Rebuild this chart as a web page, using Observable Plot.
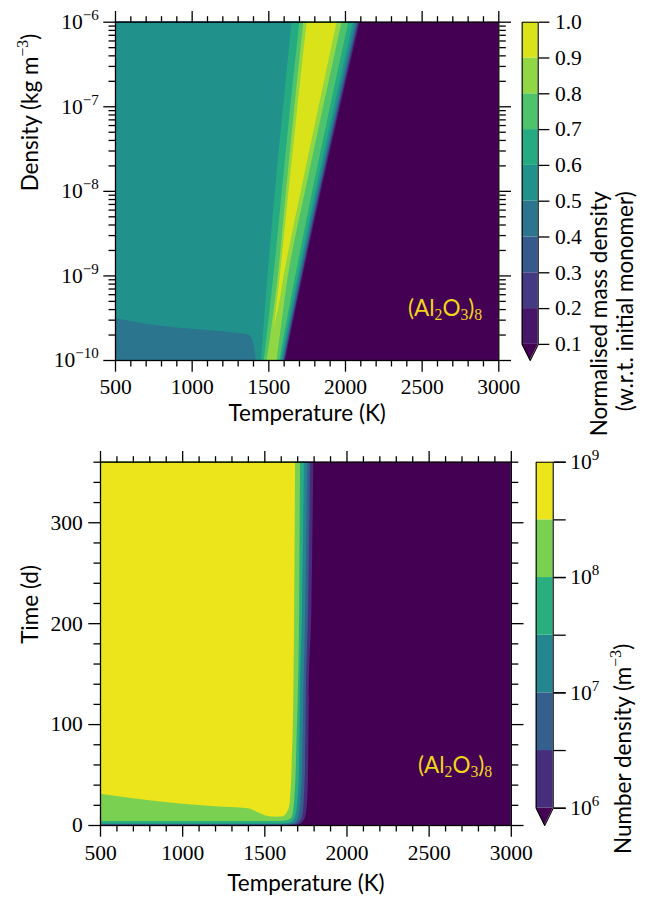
<!DOCTYPE html>
<html><head><meta charset="utf-8">
<script src="https://cdn.jsdelivr.net/npm/d3@7"></script>
<script src="https://cdn.jsdelivr.net/npm/@observablehq/plot@0.6"></script>
<style>
body{margin:0;background:#fff;}
#fig{position:relative;width:652px;height:898px;overflow:hidden;background:#fff;}
#fig > svg{position:absolute;overflow:visible;background:transparent;}
</style></head><body><div id="fig"></div>
<script>
(function(){
// ================= DATA =================
// --- top panel: normalised mass density of (Al2O3)8 vs temperature and gas density ---
const tempDomain = [500, 3000];
const rhoDomain = [1e-10, 1e-6];
const tempTicks = [500, 1000, 1500, 2000, 2500, 3000];
const rhoTicks = [1e-10, 1e-9, 1e-8, 1e-7, 1e-6];
const massLevels = [0.1, 0.2, 0.3, 0.4, 0.5, 0.6, 0.7, 0.8, 0.9, 1.0];
// log10(density) rows at which contour edges were read
const rhoExp = [-6, -7, -8, -9, -9.5, -10];
// hot-side (right) edge of region >= level (K)
const hot01 = [2098, 1970, 1845, 1725, 1667, 1610];
const hot02 = [2091, 1964, 1839, 1720, 1662, 1606];
const hot03 = [2085, 1958, 1834, 1716, 1658, 1602];
const hot04 = [2078, 1952, 1828, 1710, 1653, 1597];
const hot05 = [2068, 1943, 1820, 1703, 1647, 1592];
const hot06 = [2052, 1929, 1808, 1693, 1637, 1584];
const hot07 = [2022, 1903, 1787, 1676, 1623, 1572];
const hot08 = [1978, 1858, 1740, 1628, 1590, 1554];
// cold-side (left) edge of region >= level (K)
const cold06 = [1652, 1596, 1543, 1495, 1473, 1452];
const cold07 = [1702, 1643, 1588, 1533, 1502, 1470];
const cold08 = [1728, 1670, 1615, 1562, 1528, 1489];
// the >= 0.9 tongue closes at its tip
const rhoExp09 = [-6, -7, -8, -9, -9.4, -9.63];
const cold09 = [1750, 1690, 1632, 1575, 1550, 1533];
const hot09 = [1946, 1828, 1712, 1600, 1562, 1533];
// low-T, low-density patch in the 0.4-0.5 band: top edge log10(density)
const patchT = [500, 700, 900, 1100, 1300, 1360, 1390, 1406, 1418];
const patchTopExp = [-9.506, -9.57, -9.615, -9.645, -9.68, -9.695, -9.74, -9.84, -10];

// --- bottom panel: number density vs temperature and time ---
const timeDomain = [0, 360];
const timeTicks = [0, 100, 200, 300];
const numExp = [6, 6.5, 7, 7.5, 8, 8.5, 9];          // contour levels, log10(m^-3)
const numLabelExp = [6, 7, 8, 9];
// lower (time) boundary of region >= level, as a function of temperature
const n60T = [500, 1660, 1705, 1735, 1748, 1761, 1767, 1771, 1787, 1798];
const n60t = [0.1, 0.1, 0.6, 4, 8.2, 25, 60, 124, 220, 360];
const n65T = [500, 1640, 1690, 1715, 1728, 1740, 1748, 1753, 1767, 1778];
const n65t = [0.3, 0.3, 1, 4, 8.2, 25, 60, 124, 220, 360];
const n70T = [500, 1620, 1670, 1695, 1707, 1720, 1730, 1737, 1750, 1761];
const n70t = [0.7, 0.7, 1.5, 4, 8.2, 25, 60, 124, 220, 360];
const n75T = [500, 1600, 1650, 1675, 1687, 1702, 1712, 1717, 1730, 1741];
const n75t = [1.5, 1.5, 2.2, 4.5, 8.2, 25, 60, 124, 220, 360];
const n80T = [500, 1560, 1610, 1640, 1660, 1667, 1682, 1692, 1697, 1703, 1712, 1717];
const n80t = [4, 4, 4.3, 5, 6.5, 8.2, 25, 60, 91, 124, 220, 360];
const n85T = [500, 700, 1000, 1200, 1400, 1450, 1520, 1575, 1600, 1620, 1638, 1650, 1656, 1666, 1676, 1682, 1687];
const n85t = [31, 26.5, 21, 18.5, 16.5, 13.5, 9, 8.2, 8.3, 9.5, 13, 18, 25, 58, 124, 220, 360];

const speciesLabel = "(Al_{2}O_{3})_{8}";

// ================= STYLE =================
const serif = "'Liberation Serif', serif";
const sans = "Lato, 'Open Sans', sans-serif";
const tickFS = 21.5, labelFS = 22.5;
const majorLen = 11.7, minorLen = 6.5, sw = 1.3;
const annColor = "#f0d519";
const viridis = d3.interpolateViridis;
const under = viridis(0);
const nb = massLevels.length - 1;
const massColors = d3.range(nb).map(i => viridis((i + 0.5) / nb));
const numColorPos = [0.13, 0.30, 0.46, 0.63, 0.80, 0.97];
const numColors = numColorPos.map(viridis);
const baseStyle = {background: "transparent", overflow: "visible", color: "black"};
const tickText = {fontFamily: serif, fontSize: tickFS};

const fig = document.getElementById("fig");
function place(svg, left, topPx) {
  svg.style.left = left + "px"; svg.style.top = topPx + "px"; fig.appendChild(svg);
  svg.querySelectorAll('g[aria-label$="tick label"] text').forEach(t => {
    t.setAttribute("font-family", serif);
    t.style.setProperty("font-family", serif, "important");
    t.style.setProperty("font-size", tickFS + "px", "important");
  });
  richify(svg);
}

// turn ^{..} and _{..} into real superscript / subscript tspans
function richify(svg) {
  const ns = "http://www.w3.org/2000/svg";
  svg.querySelectorAll("text").forEach(t => {
    const s = t.textContent;
    if (!/[\^_]\{/.test(s)) return;
    const fs = parseFloat(getComputedStyle(t).fontSize) || 20;
    while (t.firstChild) t.removeChild(t.firstChild);
    const re = /([\^_])\{([^}]*)\}/g;
    let last = 0, m, shift = 0;
    const push = (str, kind) => {
      if (!str) return;
      const sp = document.createElementNS(ns, "tspan");
      let target = 0;
      if (kind === "^") { target = -0.42 * fs; }
      if (kind === "_") { target = 0.22 * fs; }
      if (kind) { sp.setAttribute("font-size", (0.7 * fs) + "px"); sp.setAttribute("font-family", serif); }
      const d = target - shift;
      if (Math.abs(d) > 1e-6) sp.setAttribute("dy", d.toFixed(2));
      shift = target;
      sp.textContent = str;
      t.appendChild(sp);
    };
    while ((m = re.exec(s))) { push(s.slice(last, m.index), ""); push(m[2], m[1]); last = re.lastIndex; }
    push(s.slice(last), "");
  });
}

const minorTemp = d3.range(tempDomain[0], tempDomain[1] + 1, 100).filter(v => v % 500 !== 0);
const expFmt = e => `10^{${String(e).replace("-", "\u2212")}}`;

// ================= TOP PANEL =================
const toRows = (exps, cold, hot) => exps.map((e, i) => ({rho: 10 ** e, cold: cold ? cold[i] : tempDomain[0], hot: hot[i]}));
const hotEdges = [hot01, hot02, hot03, hot04, hot05];
const tongues = [[rhoExp, cold06, hot06], [rhoExp, cold07, hot07], [rhoExp, cold08, hot08], [rhoExp09, cold09, hot09]];
const minorRho = [];
for (let k = -10; k < -6; k++) for (let mm = 2; mm <= 9; mm++) minorRho.push(mm * 10 ** k);

const topPlot = Plot.plot({
  width: 510, height: 440, marginLeft: 115, marginRight: 11.7, marginTop: 21.7, marginBottom: 80,
  x: {domain: tempDomain, axis: null},
  y: {type: "log", domain: rhoDomain, axis: null},
  style: baseStyle,
  marks: [
    Plot.rect([0], {x1: tempDomain[0], x2: tempDomain[1], y1: rhoDomain[0], y2: rhoDomain[1], fill: under}),
    ...hotEdges.map((h, i) => Plot.areaX(toRows(rhoExp, null, h), {y: "rho", x1: "cold", x2: "hot", fill: massColors[i], curve: "monotone-y"})),
    Plot.areaY(patchT.map((T, i) => ({T, topv: 10 ** patchTopExp[i]})), {x: "T", y1: rhoDomain[0], y2: "topv", fill: massColors[3], curve: "monotone-x"}),
    ...tongues.map(([e, c, h], i) => Plot.areaX(toRows(e, c, h), {y: "rho", x1: "cold", x2: "hot", fill: massColors[5 + i], curve: "monotone-y"})),
    Plot.frame({stroke: "black", strokeWidth: sw}),
    Plot.axisX({anchor: "bottom", ticks: tempTicks, tickSize: majorLen, tickPadding: 7, tickFormat: d => String(d), strokeWidth: sw, label: null, ...tickText}),
    Plot.axisX({anchor: "bottom", ticks: minorTemp, tickSize: minorLen, fill: "none", strokeWidth: sw, label: null}),
    Plot.axisX({anchor: "top", ticks: tempTicks, tickSize: majorLen, fill: "none", strokeWidth: sw, label: null}),
    Plot.axisX({anchor: "top", ticks: minorTemp, tickSize: minorLen, fill: "none", strokeWidth: sw, label: null}),
    Plot.axisY({anchor: "left", ticks: rhoTicks, tickSize: majorLen, tickPadding: 5, tickFormat: d => expFmt(Math.round(Math.log10(d))), strokeWidth: sw, label: null, ...tickText}),
    Plot.axisY({anchor: "left", ticks: minorRho, tickSize: minorLen, fill: "none", strokeWidth: sw, label: null}),
    Plot.axisY({anchor: "right", ticks: rhoTicks, tickSize: majorLen, fill: "none", strokeWidth: sw, label: null}),
    Plot.axisY({anchor: "right", ticks: minorRho, tickSize: minorLen, fill: "none", strokeWidth: sw, label: null}),
    Plot.text(["Temperature (K)"], {text: d => d, frameAnchor: "bottom", dy: 60, lineAnchor: "bottom", fontFamily: sans, fontSize: labelFS, fill: "black"}),
    Plot.text(["Density (kg m^{\u22123})"], {text: d => d, frameAnchor: "left", dx: -78, rotate: -90, lineAnchor: "bottom", fontFamily: sans, fontSize: labelFS, fill: "black"}),
    Plot.text([speciesLabel], {text: d => d, frameAnchor: "bottom-right", dx: -16.6, dy: -45, textAnchor: "end", lineAnchor: "bottom", fontFamily: sans, fontSize: labelFS, fill: annColor})
  ]
});
place(topPlot, 0, 0);

// top colour bar
const mLo = massLevels[0], mHi = massLevels[massLevels.length - 1];
const extFrac = 0.05;
const mTip = mLo - extFrac * (mHi - mLo);
const cbTop = Plot.plot({
  width: 142, height: 440, marginLeft: 11.7, marginRight: 114.3, marginTop: 21.7, marginBottom: 80,
  x: {domain: [0, 1], axis: null},
  y: {domain: [mTip, mHi], axis: null},
  color: {type: "identity"},
  style: baseStyle,
  marks: [
    Plot.rect(massLevels.slice(0, -1), {x1: 0, x2: 1, y1: d => d, y2: (d, i) => massLevels[i + 1], fill: (d, i) => massColors[i]}),
    Plot.areaY([{x: 0, y: mLo}, {x: 0.5, y: mTip}, {x: 1, y: mLo}], {x: "x", y1: mLo, y2: "y", fill: under}),
    Plot.line([[0, mHi], [1, mHi], [1, mLo], [0.5, mTip], [0, mLo], [0, mHi]], {x: d => d[0], y: d => d[1], stroke: "black", strokeWidth: 1.1}),
    Plot.axisY({anchor: "right", ticks: massLevels, tickSize: 10.7, tickPadding: 6, tickFormat: d3.format(".1f"), strokeWidth: sw, label: null, ...tickText}),
    Plot.text(["Normalised mass density"], {text: d => d, frameAnchor: "right", dx: 68.3, rotate: -90, lineAnchor: "bottom", fontFamily: sans, fontSize: labelFS, fill: "black"}),
    Plot.text(["(w.r.t. initial monomer)"], {text: d => d, frameAnchor: "right", dx: 94.3, rotate: -90, lineAnchor: "bottom", fontFamily: sans, fontSize: labelFS, fill: "black"})
  ]
});
place(cbTop, 510, 0);

// ================= BOTTOM PANEL =================
const numBands = [[n60T, n60t], [n65T, n65t], [n70T, n70t], [n75T, n75t], [n80T, n80t], [n85T, n85t]];
const minorTime = d3.range(timeDomain[0], timeDomain[1] + 1, 20).filter(v => v % 100 !== 0);

const bottomPlot = Plot.plot({
  width: 525, height: 458, marginLeft: 100, marginRight: 14.2, marginTop: 21.7, marginBottom: 73,
  x: {domain: tempDomain, axis: null},
  y: {domain: timeDomain, axis: null},
  style: baseStyle,
  marks: [
    Plot.rect([0], {x1: tempDomain[0], x2: tempDomain[1], y1: timeDomain[0], y2: timeDomain[1], fill: under}),
    ...numBands.map(([Ts, ts], i) => Plot.areaY(Ts.map((T, j) => ({T, t: ts[j]})), {x: "T", y1: "t", y2: timeDomain[1], fill: numColors[i], curve: "monotone-x"})),
    Plot.frame({stroke: "black", strokeWidth: sw}),
    Plot.axisX({anchor: "bottom", ticks: tempTicks, tickSize: majorLen, tickPadding: 8, tickFormat: d => String(d), strokeWidth: sw, label: null, ...tickText}),
    Plot.axisX({anchor: "bottom", ticks: minorTemp, tickSize: minorLen, fill: "none", strokeWidth: sw, label: null}),
    Plot.axisX({anchor: "top", ticks: tempTicks, tickSize: majorLen, fill: "none", strokeWidth: sw, label: null}),
    Plot.axisX({anchor: "top", ticks: minorTemp, tickSize: minorLen, fill: "none", strokeWidth: sw, label: null}),
    Plot.axisY({anchor: "left", ticks: timeTicks, tickSize: majorLen, tickPadding: 6, tickFormat: d => String(d), strokeWidth: sw, label: null, ...tickText}),
    Plot.axisY({anchor: "left", ticks: minorTime, tickSize: minorLen, fill: "none", strokeWidth: sw, label: null}),
    Plot.axisY({anchor: "right", ticks: timeTicks, tickSize: majorLen, fill: "none", strokeWidth: sw, label: null}),
    Plot.axisY({anchor: "right", ticks: minorTime, tickSize: minorLen, fill: "none", strokeWidth: sw, label: null}),
    Plot.text(["Temperature (K)"], {text: d => d, frameAnchor: "bottom", dy: 65, lineAnchor: "bottom", fontFamily: sans, fontSize: labelFS, fill: "black"}),
    Plot.text(["Time (d)"], {text: d => d, frameAnchor: "left", dx: -63, rotate: -90, lineAnchor: "bottom", fontFamily: sans, fontSize: labelFS, fill: "black"}),
    Plot.text([speciesLabel], {text: d => d, frameAnchor: "bottom-right", dx: -19.1, dy: -53, textAnchor: "end", lineAnchor: "bottom", fontFamily: sans, fontSize: labelFS, fill: annColor})
  ]
});
place(bottomPlot, 0, 440);

// bottom colour bar
const nLo = numExp[0], nHi = numExp[numExp.length - 1];
const nTip = nLo - extFrac * (nHi - nLo);
const cbBot = Plot.plot({
  width: 127, height: 458, marginLeft: 10.7, marginRight: 99.3, marginTop: 21.7, marginBottom: 73,
  x: {domain: [0, 1], axis: null},
  y: {domain: [nTip, nHi], axis: null},
  color: {type: "identity"},
  style: baseStyle,
  marks: [
    Plot.rect(numExp.slice(0, -1), {x1: 0, x2: 1, y1: d => d, y2: (d, i) => numExp[i + 1], fill: (d, i) => numColors[i]}),
    Plot.areaY([{x: 0, y: nLo}, {x: 0.5, y: nTip}, {x: 1, y: nLo}], {x: "x", y1: nLo, y2: "y", fill: under}),
    Plot.line([[0, nHi], [1, nHi], [1, nLo], [0.5, nTip], [0, nLo], [0, nHi]], {x: d => d[0], y: d => d[1], stroke: "black", strokeWidth: 1.1}),
    Plot.axisY({anchor: "right", ticks: numExp, tickSize: 12, fill: "none", strokeWidth: sw, label: null}),
    Plot.axisY({anchor: "right", ticks: numLabelExp, tickSize: 12, tickPadding: 5, tickFormat: expFmt, strokeWidth: sw, label: null, ...tickText}),
    Plot.text(["Number density (m^{\u22123})"], {text: d => d, frameAnchor: "right", dx: 77.3, rotate: -90, lineAnchor: "bottom", fontFamily: sans, fontSize: labelFS, fill: "black"})
  ]
});
place(cbBot, 525, 440);
})();
</script></body></html>
